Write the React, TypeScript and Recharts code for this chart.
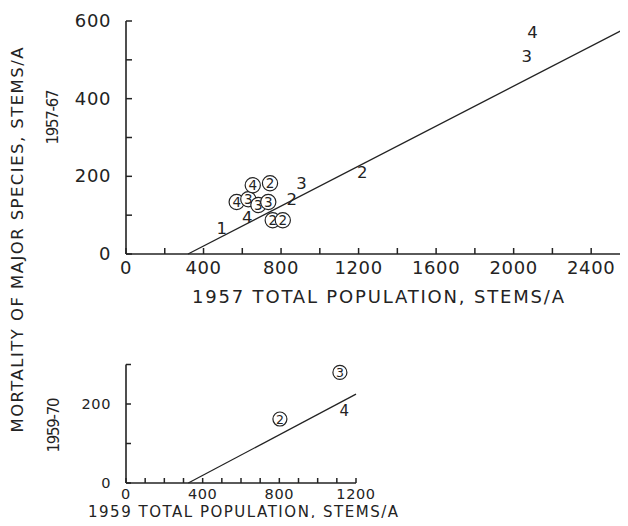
import { ScatterChart, Scatter, XAxis, YAxis, Label } from "recharts";

// upper panel: 1957 total population vs mortality 1957-67
const upperXTicks = [0, 200, 400, 600, 800, 1000, 1200, 1400, 1600, 1800, 2000, 2200, 2400];
const upperXLabelled = [0, 400, 800, 1200, 1600, 2000, 2400];
const upperYTicks = [0, 100, 200, 300, 400, 500, 600];
const upperYLabelled = [0, 200, 400, 600];

const upperPop = [494, 571, 631, 683, 734, 625, 654, 743, 906, 855, 757, 809, 1219, 2067, 2097];
const upperMort = [66, 134, 141, 126, 134, 95, 177, 182, 182, 141, 87, 87, 212, 509, 571];
const upperTag = ["1", "4", "3", "3", "3", "4", "4", "2", "3", "2", "2", "2", "2", "3", "4"];
const upperCircled = [false, true, true, true, true, false, true, true, false, false, true, true, false, false, false];

const upperFitPop = [320, 2590];
const upperFitMort = [0, 584];

// lower panel: 1959 total population vs mortality 1959-70
const lowerXTicks = [0, 100, 200, 300, 400, 500, 600, 700, 800, 900, 1000, 1100, 1200];
const lowerXLabelled = [0, 400, 800, 1200];
const lowerYTicks = [0, 100, 200, 300];
const lowerYLabelled = [0, 200];

const lowerPop = [803, 1116, 1139];
const lowerMort = [162, 280, 183];
const lowerTag = ["2", "3", "4"];
const lowerCircled = [true, true, false];

const lowerFitPop = [325, 1200];
const lowerFitMort = [0, 225];

const INK = "#232323";
const FONT = "'DejaVu Sans', Arial, sans-serif";

const toPoints = (xs: number[], ys: number[], tags?: string[], rings?: boolean[]) =>
  xs.map((x, i) => ({ x, y: ys[i], tag: tags ? tags[i] : "", circled: rings ? rings[i] : false }));

const upperPoints = toPoints(upperPop, upperMort, upperTag, upperCircled);
const upperFit = toPoints(upperFitPop, upperFitMort);
const lowerPoints = toPoints(lowerPop, lowerMort, lowerTag, lowerCircled);
const lowerFit = toPoints(lowerFitPop, lowerFitMort);

function XTick(props: any) {
  const { x, y, payload, labelled, size, mark, drop } = props;
  return (
    <g>
      <line x1={x} x2={x} y1={y} y2={y - mark} stroke={INK} strokeWidth={1.5} />
      {labelled.includes(payload.value) && (
        <text x={x} y={y + drop} textAnchor="middle" fontSize={size} fill={INK} fontFamily={FONT} letterSpacing={0.6}>
          {payload.value}
        </text>
      )}
    </g>
  );
}

function YTick(props: any) {
  const { x, y, payload, labelled, size, mark } = props;
  return (
    <g>
      <line x1={x} x2={x + mark} y1={y} y2={y} stroke={INK} strokeWidth={1.5} />
      {labelled.includes(payload.value) && (
        <text x={x - 15} y={y} dy="0.34em" textAnchor="end" fontSize={size} fill={INK} fontFamily={FONT} letterSpacing={0.6}>
          {payload.value}
        </text>
      )}
    </g>
  );
}

function PointTag(props: any) {
  const { cx, cy, payload, plain, ringed, r } = props;
  if (payload.circled) {
    return (
      <g>
        <circle cx={cx} cy={cy} r={r} fill="#fff" stroke={INK} strokeWidth={1.2} />
        <text x={cx} y={cy} dy="0.36em" textAnchor="middle" fontSize={ringed} fill={INK} fontFamily={FONT}>
          {payload.tag}
        </text>
      </g>
    );
  }
  return (
    <text x={cx} y={cy} dy="0.36em" textAnchor="middle" fontSize={plain} fill={INK} fontFamily={FONT}>
      {payload.tag}
    </text>
  );
}

const Blank = () => <g />;

export default function App() {
  return (
    <div style={{ position: "relative", width: 628, height: 526, margin: -8, overflow: "hidden", background: "#fff", fontFamily: FONT }}>
      <div style={{ position: "absolute", left: 0, top: 0 }}>
        <ScatterChart width={628} height={320} margin={{ top: 21, right: 0, bottom: 0, left: 0 }}>
          <XAxis
            type="number"
            dataKey="x"
            domain={[0, 2590]}
            ticks={upperXTicks}
            interval={0}
            tickSize={0}
            tickMargin={0}
            tickLine={false}
            height={66}
            axisLine={{ stroke: INK, strokeWidth: 1.6 }}
            tick={(p: any) => <XTick {...p} labelled={upperXLabelled} size={18} mark={6} drop={20} />}
          >
            <Label
              content={() => (
                <text x={192} y={303} fontSize={18} fill={INK} fontFamily={FONT} textLength={372} lengthAdjust="spacing">
                  1957 TOTAL POPULATION, STEMS/A
                </text>
              )}
            />
          </XAxis>
          <YAxis
            type="number"
            dataKey="y"
            domain={[0, 600]}
            ticks={upperYTicks}
            interval={0}
            width={126}
            tickSize={0}
            tickMargin={0}
            tickLine={false}
            axisLine={{ stroke: INK, strokeWidth: 1.6 }}
            tick={(p: any) => <YTick {...p} labelled={upperYLabelled} size={18} mark={6} />}
          />
          <Scatter data={upperFit} line={{ stroke: INK, strokeWidth: 1.3 }} shape={Blank} isAnimationActive={false} />
          <Scatter
            data={upperPoints}
            shape={(p: any) => <PointTag {...p} plain={16.5} ringed={13.5} r={7.6} />}
            isAnimationActive={false}
          />
        </ScatterChart>
      </div>

      <div style={{ position: "absolute", left: 0, top: 340 }}>
        <ScatterChart width={628} height={186} margin={{ top: 24.5, right: 272, bottom: 0, left: 0 }}>
          <XAxis
            type="number"
            dataKey="x"
            domain={[0, 1200]}
            ticks={lowerXTicks}
            interval={0}
            tickSize={0}
            tickMargin={0}
            tickLine={false}
            height={43}
            axisLine={{ stroke: INK, strokeWidth: 1.6 }}
            tick={(p: any) => <XTick {...p} labelled={lowerXLabelled} size={14.5} mark={5} drop={16} />}
          >
            <Label
              content={() => (
                <text x={88} y={177} fontSize={15} fill={INK} fontFamily={FONT} textLength={310} lengthAdjust="spacing">
                  1959 TOTAL POPULATION, STEMS/A
                </text>
              )}
            />
          </XAxis>
          <YAxis
            type="number"
            dataKey="y"
            domain={[0, 300]}
            ticks={lowerYTicks}
            interval={0}
            width={126}
            tickSize={0}
            tickMargin={0}
            tickLine={false}
            axisLine={{ stroke: INK, strokeWidth: 1.6 }}
            tick={(p: any) => <YTick {...p} labelled={lowerYLabelled} size={14.5} mark={5} />}
          />
          <Scatter data={lowerFit} line={{ stroke: INK, strokeWidth: 1.3 }} shape={Blank} isAnimationActive={false} />
          <Scatter
            data={lowerPoints}
            shape={(p: any) => <PointTag {...p} plain={15} ringed={12.5} r={7} />}
            isAnimationActive={false}
          />
        </ScatterChart>
      </div>

      <svg width={80} height={526} style={{ position: "absolute", left: 0, top: 0, pointerEvents: "none" }}>
        <text transform="translate(23,240) rotate(-90)" textAnchor="middle" fontSize={16.5} fill={INK} fontFamily={FONT} textLength={385} lengthAdjust="spacing">
          MORTALITY OF MAJOR SPECIES, STEMS/A
        </text>
        <text transform="translate(58,117) rotate(-90)" textAnchor="middle" fontSize={15} fill={INK} fontFamily={FONT} textLength={55} lengthAdjust="spacing">
          1957-67
        </text>
        <text transform="translate(59,425) rotate(-90)" textAnchor="middle" fontSize={15} fill={INK} fontFamily={FONT} textLength={55} lengthAdjust="spacing">
          1959-70
        </text>
      </svg>
    </div>
  );
}
